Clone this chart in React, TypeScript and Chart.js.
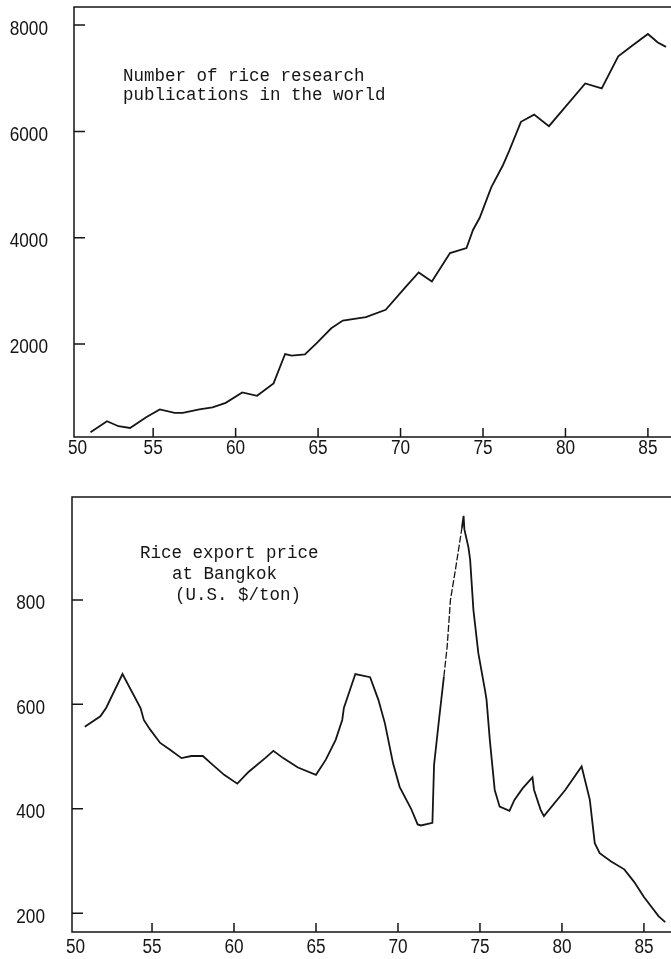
import React, { useEffect, useRef } from "react";
import { Chart, registerables } from "chart.js";

Chart.register(...registerables);

// ---- data ----
const pubYears = [51.2, 52.2, 52.9, 53.6, 54.6, 55.4, 56.3, 56.8, 57.8, 58.6, 59.4, 60.4, 61.3, 62.3, 63.0, 63.4, 64.2, 64.9, 65.8, 66.5, 67.9, 69.1, 70.3, 71.1, 71.9, 73.0, 74.0, 74.4, 74.8, 75.5, 76.2, 76.6, 77.3, 78.1, 79.0, 81.2, 82.2, 83.2, 84.0, 85.0, 85.6, 86.1];
const pubCounts = [340, 547, 453, 420, 628, 768, 704, 704, 768, 806, 892, 1088, 1025, 1258, 1811, 1780, 1806, 2013, 2296, 2440, 2504, 2642, 3070, 3345, 3176, 3711, 3806, 4150, 4375, 4947, 5358, 5644, 6180, 6315, 6098, 6901, 6809, 7413, 7600, 7833, 7672, 7590];

const priceYears = [50.9, 51.85, 52.2, 53.2, 54.3, 54.5, 54.9, 55.5, 56.1, 56.8, 57.4, 58.1, 58.6, 59.4, 60.2, 60.9, 61.9, 62.4, 63.0, 63.9, 65.0, 65.6, 66.2, 66.6, 66.7, 67.4, 68.3, 68.8, 69.2, 69.7, 70.1, 70.8, 71.2, 71.4, 72.1, 72.2, 72.5, 72.8, 73.0, 73.2, 73.5, 73.9, 74.0, 74.05, 74.3, 74.4, 74.6, 74.9, 75.3, 75.4, 75.6, 75.9, 76.2, 76.8, 77.1, 77.6, 78.2, 78.3, 78.7, 78.9, 80.2, 81.2, 81.7, 82.0, 82.3, 83.0, 83.8, 84.4, 85.0, 85.9, 86.3];
const prices = [557, 577, 593, 658, 593, 570, 551, 526, 513, 497, 501, 501, 487, 465, 448, 471, 497, 511, 497, 479, 465, 494, 532, 570, 593, 658, 652, 609, 564, 487, 442, 400, 370, 368, 373, 484, 570, 653, 711, 800, 857, 938, 961, 935, 900, 877, 781, 698, 628, 609, 532, 436, 404, 396, 417, 439, 460, 436, 398, 386, 436, 481, 417, 334, 315, 299, 284, 260, 231, 194, 183];
// faint (broken) stretch of the price curve, as drawn in the original
const priceFaintFrom = 72.8;
const priceFaintTo = 73.9;

const yearTicks = [50, 55, 60, 65, 70, 75, 80, 85];
const pubTicks = [2000, 4000, 6000, 8000];
const priceTicks = [200, 400, 600, 800];

const pubNote = ["Number of rice research", "publications in the world"];
const priceNote = ["Rice export price", "at Bangkok", "(U.S. $/ton)"];

const TICK_FONT = "'Liberation Sans', 'DejaVu Sans', sans-serif";
const MONO_FONT = "'Liberation Mono', 'DejaVu Sans Mono', monospace";
const INK = "#151515";

function condensedText(ctx: any, text: string, x: number, y: number, align: string, squeeze: number) {
  ctx.save();
  ctx.translate(x, y);
  ctx.scale(squeeze, 1);
  ctx.textAlign = align;
  ctx.fillText(text, 0, 0);
  ctx.restore();
}

const framePlugin = {
  id: "frame",
  afterDraw(chart: any, _args: any, opts: any) {
    const { ctx, chartArea: a, scales } = chart;
    ctx.save();
    ctx.strokeStyle = INK;
    ctx.lineWidth = 1.5;
    ctx.beginPath();
    ctx.moveTo(a.right + 5, a.top);
    ctx.lineTo(a.left, a.top);
    ctx.lineTo(a.left, a.bottom);
    ctx.lineTo(a.right + 5, a.bottom);
    ctx.stroke();

    // inward tick marks
    ctx.beginPath();
    scales.y.ticks.forEach((t: any) => {
      const py = scales.y.getPixelForValue(t.value);
      ctx.moveTo(a.left, py);
      ctx.lineTo(a.left + 11, py);
    });
    scales.x.ticks.forEach((t: any) => {
      const px = scales.x.getPixelForValue(t.value);
      if (px < a.left + 4) return;
      ctx.moveTo(px, a.bottom);
      ctx.lineTo(px, a.bottom - 9);
    });
    ctx.stroke();

    // tick labels, placed with the scales
    ctx.fillStyle = INK;
    ctx.font = `20px ${TICK_FONT}`;
    ctx.textBaseline = "middle";
    scales.y.ticks.forEach((t: any) => {
      const py = scales.y.getPixelForValue(t.value);
      condensedText(ctx, String(t.value), a.left - opts.yGap, py + 4, "right", 0.86);
    });
    scales.x.ticks.forEach((t: any) => {
      const px = Math.max(scales.x.getPixelForValue(t.value), a.left + 3.5);
      condensedText(ctx, String(t.value), px, a.bottom + opts.xGap, "center", 0.86);
    });

    // annotation
    ctx.font = `17.5px ${MONO_FONT}`;
    ctx.textAlign = "left";
    (opts.lines || []).forEach((line: string, i: number) => {
      ctx.fillText(line, a.left + opts.dx[i], a.top + opts.dy + i * opts.lh);
    });
    ctx.restore();
  },
};

function makeConfig(
  xs: number[],
  ys: number[],
  yTicks: number[],
  xMin: number,
  xMax: number,
  yMin: number,
  yMax: number,
  padTop: number,
  yWidth: number,
  xHeight: number,
  note: any,
  faint?: [number, number]
) {
  return {
    type: "line",
    data: {
      datasets: [
        {
          data: xs.map((x, i) => ({ x, y: ys[i] })),
          borderColor: INK,
          borderWidth: 1.8,
          pointRadius: 0,
          tension: 0,
          fill: false,
          segment: {
            borderDash: (c: any) =>
              faint && c.p0.parsed.x >= faint[0] && c.p1.parsed.x <= faint[1] ? [7, 2] : undefined,
            borderWidth: (c: any) =>
              faint && c.p0.parsed.x >= faint[0] && c.p1.parsed.x <= faint[1] ? 1.3 : undefined,
          },
        },
      ],
    },
    options: {
      animation: false,
      responsive: false,
      maintainAspectRatio: false,
      layout: { padding: { top: padTop, left: 0, right: 0, bottom: 0 } },
      plugins: { legend: { display: false }, tooltip: { enabled: false }, frame: note },
      scales: {
        x: {
          type: "linear",
          min: xMin,
          max: xMax,
          grid: { display: false },
          border: { display: false },
          afterBuildTicks: (s: any) => {
            s.ticks = yearTicks.map((v) => ({ value: v }));
          },
          afterFit: (s: any) => {
            s.height = xHeight;
            s.paddingLeft = 0;
            s.paddingRight = 0;
          },
          ticks: { display: false, autoSkip: false },
        },
        y: {
          type: "linear",
          min: yMin,
          max: yMax,
          grid: { display: false },
          border: { display: false },
          afterBuildTicks: (s: any) => {
            s.ticks = yTicks.map((v) => ({ value: v }));
          },
          afterFit: (s: any) => {
            s.width = yWidth;
            s.paddingTop = 0;
            s.paddingBottom = 0;
          },
          ticks: { display: false, autoSkip: false },
        },
      },
    },
    plugins: [framePlugin],
  };
}

function LineChart(props: { width: number; height: number; config: any }) {
  const ref = useRef<HTMLCanvasElement | null>(null);
  useEffect(() => {
    if (!ref.current) return;
    const chart = new Chart(ref.current, props.config);
    return () => chart.destroy();
  }, []);
  return (
    <canvas
      ref={ref}
      width={props.width}
      height={props.height}
      style={{ display: "block", width: props.width, height: props.height }}
    />
  );
}

export default function App() {
  const topConfig = makeConfig(pubYears, pubCounts, pubTicks, 50.2, 86.4, 250, 8340, 7, 74, 33, {
    lines: pubNote,
    dx: [49, 49],
    dy: 69,
    lh: 19,
    yGap: 26,
    xGap: 11,
  });
  const bottomConfig = makeConfig(
    priceYears,
    prices,
    priceTicks,
    50.12,
    86.65,
    164,
    997,
    27,
    72,
    27,
    {
      lines: priceNote,
      dx: [68, 100, 103],
      dy: 56,
      lh: 21,
      yGap: 27,
      xGap: 15,
    },
    [priceFaintFrom, priceFaintTo]
  );
  return (
    <div style={{ position: "absolute", left: 0, top: 0, width: 671, height: 959, background: "#fff" }}>
      <LineChart width={671} height={470} config={topConfig} />
      <LineChart width={671} height={489} config={bottomConfig} />
    </div>
  );
}
